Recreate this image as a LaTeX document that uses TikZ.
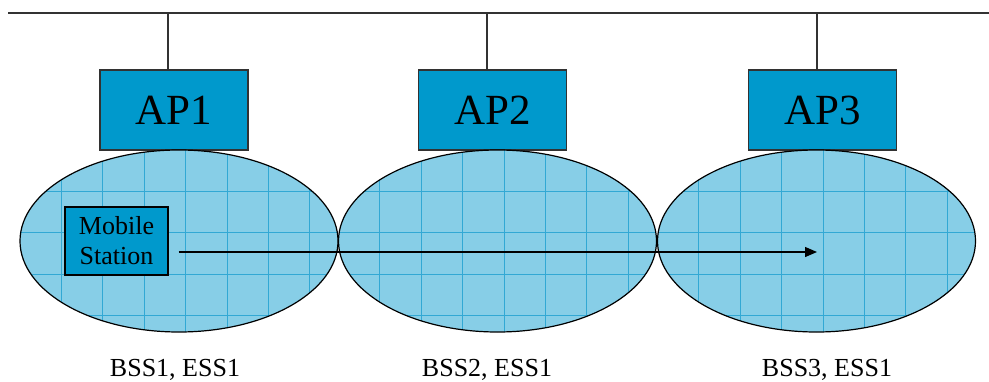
\documentclass[tikz,border=0pt]{standalone}
\usepackage{fontspec}
\setmainfont{Liberation Serif}
\usetikzlibrary{arrows.meta,shapes.geometric}
\definecolor{apblue}{RGB}{0,153,204}
\definecolor{cellblue}{RGB}{135,206,231}
\definecolor{gridblue}{RGB}{50,168,212}
\definecolor{wire}{RGB}{50,50,50}

\begin{document}
\begin{tikzpicture}[x=0.5pt,y=0.5pt,
ap/.style={draw=wire,fill=apblue,line width=0.6pt,inner sep=0pt,minimum width=74pt,minimum height=40pt,font=\fontsize{21.5}{24}\selectfont},
gridline/.style={gridblue,line width=0.5pt},
cell/.style={ellipse,draw=black,fill=cellblue,line width=0.6pt,inner sep=0pt,minimum width=159pt,minimum height=91pt,
  path picture={
    \foreach \k in {1,...,7}
      \draw[gridline] ([xshift=\k*20.7pt]path picture bounding box.north west) -- ([xshift=\k*20.7pt]path picture bounding box.south west);
    \foreach \k in {1,...,4}
      \draw[gridline] ([yshift=-\k*20.7pt]path picture bounding box.north west) -- ([yshift=-\k*20.7pt]path picture bounding box.north east);
  }},
ms/.style={draw=black,fill=apblue,line width=0.6pt,inner sep=0pt,align=center,minimum width=51.5pt,minimum height=34pt,font=\fontsize{13}{15}\selectfont},
lbl/.style={anchor=base,font=\fontsize{13}{15}\selectfont},
arr/.style={-{Triangle[length=6pt,width=5pt]},line width=0.65pt}]
\useasboundingbox (0,0) rectangle (989,381);
\coordinate (lanW) at (8,368);
\coordinate (lanE) at (989,368);
\coordinate (t1) at (168,368);
\coordinate (t2) at (487,368);
\coordinate (t3) at (817,368);
\draw[wire,line width=0.65pt] (lanW) -- (lanE);
\node[ap] (ap1) at (174,271) {AP1};
\node[ap] (ap2) at (492.5,271) {AP2};
\node[ap] (ap3) at (822.5,271) {AP3};
\draw[wire,line width=0.65pt] (t1) -- (t1 |- ap1.north);
\draw[wire,line width=0.65pt] (t2) -- (t2 |- ap2.north);
\draw[wire,line width=0.65pt] (t3) -- (t3 |- ap3.north);
\node[cell] (bss1) at (179,140) {};
\node[cell] (bss2) at (497.5,140) {};
\node[cell] (bss3) at (816.5,140) {};
\node[ms] (ms) at (116.5,140) {Mobile\\Station};
\coordinate (dest) at (817,129);
\draw[arr] ([shift={(5pt,-5.5pt)}]ms.east) -- (dest);
\node[lbl] (l1) at (175,5) {BSS1, ESS1};
\node[lbl] (l2) at (487,5) {BSS2, ESS1};
\node[lbl] (l3) at (827,5) {BSS3, ESS1};
\end{tikzpicture}
\end{document}
